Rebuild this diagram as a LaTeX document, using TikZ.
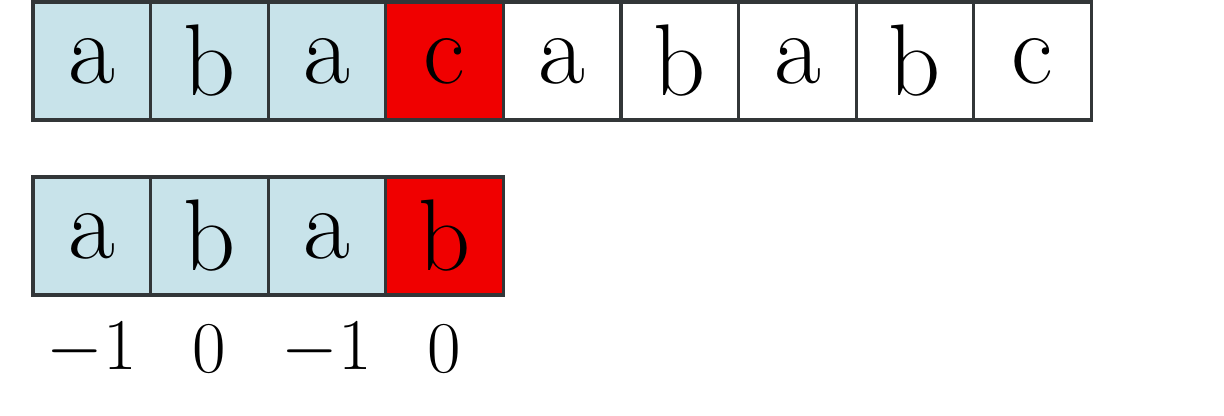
\documentclass[tikz,border=0pt]{standalone}
\usepackage{tikz}
\definecolor{lightcell}{RGB}{200,227,234}
\definecolor{hotcell}{RGB}{240,0,0}
\definecolor{cellline}{RGB}{50,54,56}
\begin{document}
\begin{tikzpicture}
\tikzset{case/.style={draw=cellline, line width=0.9pt, minimum width=1.176cm, minimum height=1.18cm, inner sep=0pt, font=\fontsize{29}{33}\selectfont},
vu/.style={case, fill=lightcell},
faux/.style={case, fill=hotcell},
poids/.style={inner sep=0pt, font=\fontsize{21}{25}\selectfont}}
\useasboundingbox (0, 0) rectangle (12.24, 4.16);
\node[vu] (T1) at (0.918, 3.55) {a};
\node[vu] (T2) at (2.094, 3.55) {b};
\node[vu] (T3) at (3.270, 3.55) {a};
\node[faux] (T4) at (4.446, 3.55) {c};
\node[case] (T5) at (5.622, 3.55) {a};
\node[case] (T6) at (6.798, 3.55) {b};
\node[case] (T7) at (7.974, 3.55) {a};
\node[case] (T8) at (9.150, 3.55) {b};
\node[case] (T9) at (10.326, 3.55) {c};
\node[vu] (P1) at (0.918, 1.80) {a};
\node[vu] (P2) at (2.094, 1.80) {b};
\node[vu] (P3) at (3.270, 1.80) {a};
\node[faux] (P4) at (4.446, 1.80) {b};
\node[poids] (N1) at (0.918, 0.67) {$-1$};
\node[poids] (N2) at (2.094, 0.67) {$0$};
\node[poids] (N3) at (3.270, 0.67) {$-1$};
\node[poids] (N4) at (4.446, 0.67) {$0$};
\end{tikzpicture}
\end{document}
